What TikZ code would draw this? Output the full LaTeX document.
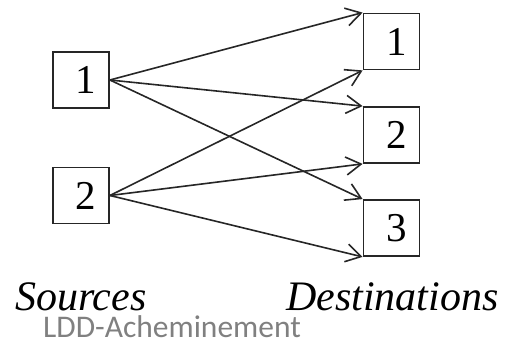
\documentclass[tikz,border=0pt]{standalone}
\usepackage{fontspec}
\setmainfont{Liberation Serif}
\newfontfamily\notefont{Carlito}
\usetikzlibrary{arrows.meta}
\begin{document}
\begin{tikzpicture}[x=1pt,y=-1pt,
  box/.style={draw=black!85,line width=1.8pt,minimum width=56pt,minimum height=56pt,
    inner sep=0pt,font=\fontsize{41}{41}\selectfont},
  link/.style={draw=black!85,line width=1.6pt,-{Straight Barb[length=15pt,width=18pt,line width=1.6pt]}},
  caption/.style={anchor=base west,inner sep=0pt,font=\fontsize{42}{42}\selectfont\itshape},
  note/.style={anchor=base west,inner sep=0pt,text=black!50,font=\notefont\fontsize{31.5}{31.5}\selectfont}]
\useasboundingbox (0,0) rectangle (506,339);
% sources
\node[box] (s1) at (81,80) {\hspace{10pt}1};
\node[box] (s2) at (81,195.5) {\hspace{10pt}2};
% destinations
\node[box] (d1) at (391.5,41.5) {\hspace{10pt}1};
\node[box] (d2) at (391.5,135) {\hspace{10pt}2};
\node[box] (d3) at (391.5,228) {\hspace{10pt}3};
% routes
\draw[link] (s1.east) -- (d1.north west);
\draw[link] (s1.east) -- (d2.north west);
\draw[link] (s1.east) -- (d3.north west);
\draw[link] (s2.east) -- (d1.south west);
\draw[link] (s2.east) -- (d2.south west);
\draw[link] (s2.east) -- (d3.south west);
% labels
\node[caption] (src) at (15,310) {Sources};
\node[caption] (dst) at (286,310) {Destinations};
\node[note] (ldd) at (43,337) {LDD-Acheminement};
\end{tikzpicture}
\end{document}
